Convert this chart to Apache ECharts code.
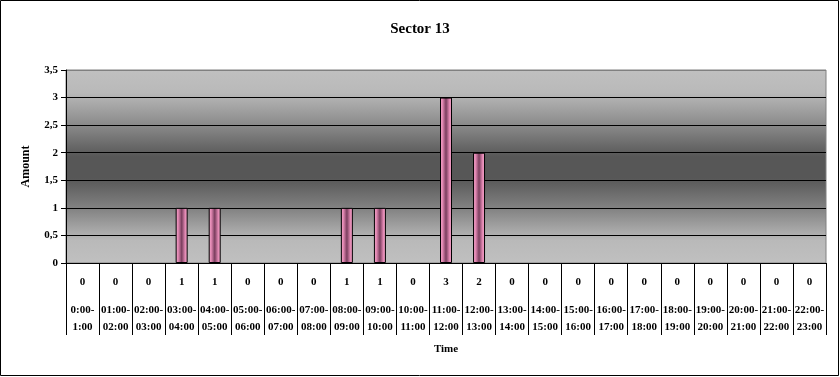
<!DOCTYPE html>
<html>
<head>
<meta charset="utf-8">
<script src="https://cdn.jsdelivr.net/npm/echarts@6/dist/echarts.min.js"></script>
<style>html,body{margin:0;padding:0;background:#fff}#c{width:840px;height:377px}</style>
</head>
<body>
<div id="c"></div>
<script>
var categories = ['0:00-1:00','01:00-02:00','02:00-03:00','03:00-04:00','04:00-05:00','05:00-06:00','06:00-07:00','07:00-08:00','08:00-09:00','09:00-10:00','10:00-11:00','11:00-12:00','12:00-13:00','13:00-14:00','14:00-15:00','15:00-16:00','16:00-17:00','17:00-18:00','18:00-19:00','19:00-20:00','20:00-21:00','21:00-22:00','22:00-23:00'];
var amounts = [0,0,0,1,1,0,0,0,1,1,0,3,2,0,0,0,0,0,0,0,0,0,0];
var yTicks = [0,0.5,1,1.5,2,2.5,3,3.5];

var font = '"Liberation Serif", "Times New Roman", serif';
var chart = echarts.init(document.getElementById('c'));
chart.setOption({
  animation: false,
  title: {
    text: 'Sector 13', left: 'center', top: 17,
    textStyle: {fontFamily: font, fontSize: 15, fontWeight: 'bold', color: '#000'}
  },
  graphic: [{
    type: 'rect', shape: {x: 0.5, y: 0.5, width: 838, height: 375},
    style: {fill: 'none', stroke: '#000', lineWidth: 1}, silent: true
  }],
  grid: {
    left: 66, right: 14, top: 70, bottom: 114, show: true,
    borderColor: '#808080', borderWidth: 1,
    backgroundColor: {
      type: 'linear', x: 0, y: 0, x2: 0, y2: 1,
      colorStops: [
        {offset: 0, color: '#c0c0c0'},
        {offset: 0.12, color: '#b9b9b9'},
        {offset: 0.3, color: '#868686'},
        {offset: 0.45, color: '#575757'},
        {offset: 0.56, color: '#575757'},
        {offset: 0.72, color: '#838383'},
        {offset: 0.88, color: '#b9b9b9'},
        {offset: 1, color: '#c0c0c0'}
      ]
    }
  },
  xAxis: {
    type: 'category', data: categories,
    name: 'Time', nameLocation: 'middle', nameGap: 81,
    nameTextStyle: {fontFamily: font, fontSize: 11, fontWeight: 'bold', color: '#000', verticalAlign: 'top'},
    axisLine: {lineStyle: {color: '#000', width: 1}},
    axisTick: {show: true, length: 72, lineStyle: {color: '#000'}},
    axisLabel: {
      interval: 0, margin: 0,
      formatter: function (v, i) {
        var p = v.split('-');
        return '{v|' + amounts[i] + '}\n{c|' + p[0] + '-}\n{c|' + p[1] + '}';
      },
      rich: {
        v: {fontFamily: font, fontSize: 11, fontWeight: 'bold', color: '#000', lineHeight: 39, align: 'center'},
        c: {fontFamily: font, fontSize: 11, fontWeight: 'bold', color: '#000', lineHeight: 17, align: 'center'}
      }
    }
  },
  yAxis: {
    type: 'value', min: 0, max: 3.5, interval: 0.5,
    name: 'Amount', nameLocation: 'middle', nameGap: 34, nameRotate: 90,
    nameTextStyle: {fontFamily: font, fontSize: 12, fontWeight: 'bold', color: '#000'},
    axisLine: {show: true, lineStyle: {color: '#000'}},
    axisTick: {show: true, length: 5, lineStyle: {color: '#000'}},
    axisLabel: {
      margin: 8, fontFamily: font, fontSize: 11, fontWeight: 'bold', color: '#000',
      formatter: function (v) { return String(v).replace('.', ','); }
    },
    splitLine: {show: true, lineStyle: {color: ['#000','#000','#000','#000','#000','#000','#000','#808080'], width: 1}}
  },
  series: [{
    type: 'bar', barWidth: 12,
    data: amounts.map(function (v) {
      return v === 0 ? {value: v, itemStyle: {borderWidth: 0, opacity: 0}} : v;
    }),
    itemStyle: {
      borderColor: '#000', borderWidth: 1,
      color: {
        type: 'linear', x: 0, y: 0, x2: 1, y2: 0,
        colorStops: [
          {offset: 0, color: '#f4a8cc'},
          {offset: 0.2, color: '#e58ab5'},
          {offset: 0.5, color: '#7a3e5e'},
          {offset: 0.8, color: '#e58ab5'},
          {offset: 1, color: '#f4a8cc'}
        ]
      }
    }
  }]
});
</script>
</body>
</html>
